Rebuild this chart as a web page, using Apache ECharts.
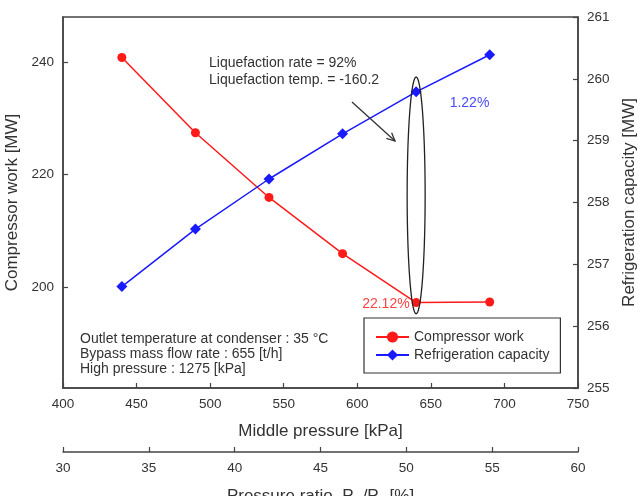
<!DOCTYPE html>
<html>
<head>
    <meta charset="utf-8">
    <title>Compressor work vs middle pressure</title>
    <script src="https://cdnjs.cloudflare.com/ajax/libs/echarts/6.0.0/echarts.min.js"></script>
    <style>
        body { margin: 0; background: #fff; }
        #chart { width: 638px; height: 496px; }
    </style>
</head>
<body>
    <div id="chart"></div>
    <script>
        // middle pressure [kPa]
        var middlePressure = [440, 490, 540, 590, 640, 690];
        // compressor work [MW]
        var compressorWork = [240.8, 227.4, 215.9, 205.9, 197.2, 197.3];
        // refrigeration capacity [MW]
        var refrigCapacity = [256.64, 257.57, 258.38, 259.11, 259.79, 260.39];
        var leftTicks = [200, 220, 240];

        var font = 'Liberation Sans, Arial, sans-serif';
        var axisColor = '#444';
        var textColor = '#333';

        var chart = echarts.init(document.getElementById('chart'));

        function pairs(ys) {
            return middlePressure.map(function (x, i) { return [x, ys[i]]; });
        }

        var redData = pairs(compressorWork);
        redData[4] = {
            value: redData[4],
            label: { show: true, formatter: '22.12%', position: 'left', distance: 2, offset: [0, 2], color: '#ff4444', fontSize: 14, fontFamily: font }
        };
        var blueData = pairs(refrigCapacity);
        blueData[4] = {
            value: blueData[4],
            label: { show: true, formatter: '1.22%', position: 'right', offset: [23, 11], color: '#4a4aff', fontSize: 14, fontFamily: font }
        };

        var axisCommon = {
            axisLine: { show: true, lineStyle: { color: axisColor, width: 1.5 } },
            axisTick: { show: true, inside: true, length: 5, lineStyle: { color: axisColor, width: 1.2 } },
            axisLabel: { color: textColor, fontSize: 13.5, fontFamily: font, margin: 9 },
            splitLine: { show: false },
            nameTextStyle: { color: textColor, fontSize: 17, fontFamily: font }
        };

        var option = {
            animation: false,
            backgroundColor: '#fff',
            grid: {
                left: 63, right: 60, top: 17, bottom: 108,
                outerBoundsMode: 'none', containLabel: false,
                show: true, borderColor: axisColor, borderWidth: 1.5
            },
            legend: {
                orient: 'vertical',
                left: 364, top: 318,
                padding: [12, 11, 11, 11],
                itemGap: 4,
                itemWidth: 33, itemHeight: 14,
                borderColor: '#333', borderWidth: 1.2,
                backgroundColor: '#fff',
                textStyle: { color: textColor, fontSize: 14, fontFamily: font },
                data: ['Compressor work', 'Refrigeration capacity']
            },
            xAxis: [
                Object.assign({}, axisCommon, {
                    type: 'value', min: 400, max: 750, interval: 50,
                    position: 'bottom',
                    name: 'Middle pressure [kPa]', nameLocation: 'middle', nameGap: 35
                }),
                Object.assign({}, axisCommon, {
                    type: 'value', min: 30, max: 60, interval: 5,
                    position: 'bottom', offset: 64,
                    name: 'Pressure ratio, P{sub|m}/P{sub|h} [%]', nameLocation: 'middle', nameGap: 34,
                    nameTextStyle: {
                        color: textColor, fontSize: 17, fontFamily: font,
                        rich: { sub: { fontSize: 11, fontFamily: font, color: textColor, padding: [10, 0, 0, 0] } }
                    }
                })
            ],
            yAxis: [
                Object.assign({}, axisCommon, {
                    type: 'value', min: 182, max: 248,
                    position: 'left',
                    axisTick: Object.assign({}, axisCommon.axisTick, { customValues: leftTicks }),
                    axisLabel: Object.assign({}, axisCommon.axisLabel, { customValues: leftTicks }),
                    name: 'Compressor work [MW]', nameLocation: 'middle', nameGap: 42
                }),
                Object.assign({}, axisCommon, {
                    type: 'value', min: 255, max: 261, interval: 1,
                    position: 'right',
                    name: 'Refrigeration capacity [MW]', nameLocation: 'middle', nameGap: 41
                })
            ],
            series: [
                {
                    name: 'Compressor work', type: 'line',
                    xAxisIndex: 0, yAxisIndex: 0,
                    data: redData,
                    symbol: 'circle', symbolSize: 9,
                    itemStyle: { color: '#ff1a1a' },
                    lineStyle: { color: '#ff1a1a', width: 1.5 }
                },
                {
                    name: 'Refrigeration capacity', type: 'line',
                    xAxisIndex: 0, yAxisIndex: 1,
                    data: blueData,
                    symbol: 'diamond', symbolSize: 11,
                    itemStyle: { color: '#1a1aff' },
                    lineStyle: { color: '#1a1aff', width: 1.5 }
                }
            ]
        };
        chart.setOption(option);

        // annotations: ellipse around the 640 kPa points, arrow and notes
        var ellTop = chart.convertToPixel({ seriesIndex: 1 }, [640, 260.03]);
        var ellBot = chart.convertToPixel({ seriesIndex: 1 }, [640, 256.2]);
        var cx = ellTop[0], cy = (ellTop[1] + ellBot[1]) / 2, rx = 9, ry = (ellBot[1] - ellTop[1]) / 2;
        var ellipsePts = [];
        for (var k = 0; k < 72; k++) {
            var t = k / 72 * Math.PI * 2;
            ellipsePts.push([cx + rx * Math.cos(t), cy + ry * Math.sin(t)]);
        }

        var ax0 = 352, ay0 = 102, ax1 = 395, ay1 = 141;
        var ang = Math.atan2(ay1 - ay0, ax1 - ax0);
        var head = 9, spread = 0.45;

        var noteStyle = { fill: textColor, fontSize: 14, fontFamily: font, lineHeight: 15 };

        chart.setOption({
            graphic: [
                {
                    type: 'polygon',
                    shape: { points: ellipsePts },
                    style: { fill: null, stroke: '#222', lineWidth: 1.3 }, z: 10
                },
                {
                    type: 'line',
                    shape: { x1: ax0, y1: ay0, x2: ax1, y2: ay1 },
                    style: { stroke: '#333', lineWidth: 1.3 }, z: 10
                },
                {
                    type: 'polyline',
                    shape: { points: [
                        [ax1 - head * Math.cos(ang - spread), ay1 - head * Math.sin(ang - spread)],
                        [ax1, ay1],
                        [ax1 - head * Math.cos(ang + spread), ay1 - head * Math.sin(ang + spread)]
                    ] },
                    style: { fill: null, stroke: '#333', lineWidth: 1.3 }, z: 10
                },
                {
                    type: 'text', left: 209, top: 55, z: 10,
                    style: Object.assign({}, noteStyle, { text: 'Liquefaction rate = 92%\nLiquefaction temp. = -160.2', lineHeight: 17 })
                },
                {
                    type: 'text', left: 80, top: 332, z: 10,
                    style: Object.assign({}, noteStyle, {
                        text: 'Outlet temperature at condenser : 35 °C\nBypass mass flow rate : 655 [t/h]\nHigh pressure : 1275 [kPa]'
                    })
                }
            ]
        });
    </script>
</body>
</html>
